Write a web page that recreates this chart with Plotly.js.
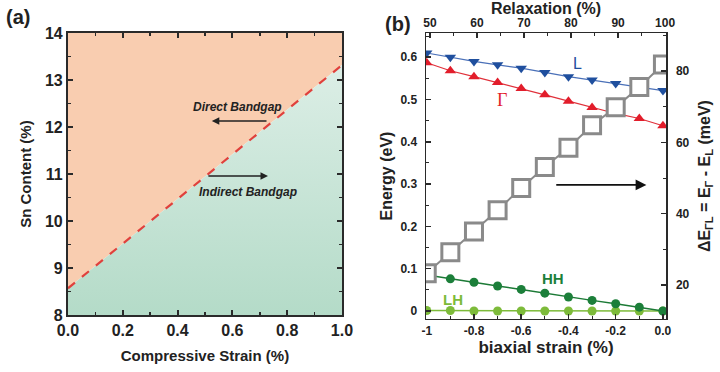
<!DOCTYPE html>
<html>
<head>
<meta charset="utf-8">
<script src="https://cdn.plot.ly/plotly-3.0.1.min.js"></script>
<style>html,body{margin:0;padding:0;background:#fff;}#chart{width:720px;height:372px;}</style>
</head>
<body>
<div id="chart"></div>
<script>
// ---- Panel (a) data ----
const boundaryStrain = [0, 1];
const boundarySn = [8.57, 13.32];
const strainRangeA = [0, 1];
const snRange = [8, 14];

// ---- Panel (b) data ----
const biaxialStrain = [-1, -0.9, -0.8, -0.7, -0.6, -0.5, -0.4, -0.3, -0.2, -0.1, 0];
const energyL = [0.610, 0.600, 0.590, 0.582, 0.574, 0.564, 0.554, 0.546, 0.538, 0.529, 0.521];
const energyGamma = [0.587, 0.568, 0.554, 0.540, 0.526, 0.511, 0.496, 0.481, 0.467, 0.455, 0.438];
const energyHH = [0.085, 0.076, 0.068, 0.059, 0.051, 0.042, 0.033, 0.025, 0.017, 0.009, 0.0];
const energyLH = [0.001, 0.001, 0.0, 0.0, 0.0, 0.0, 0.0, 0.0, 0.0, 0.0, 0.0];
const deltaE = [23.3, 29.2, 35.0, 41.0, 47.2, 53.1, 58.5, 64.8, 69.8, 75.5, 81.8];
const relaxationTicks = [50, 60, 70, 80, 90, 100];
const strainTickVals = [-1, -0.8, -0.6, -0.4, -0.2, 0];
const strainTickText = ['-1', '-0.8', '-0.6', '-0.4', '-0.2', '0.0'];

const F = 'Liberation Sans, Arial, sans-serif';
const axColor = '#2a2a2a';

const traces = [
  {x: [strainRangeA[0], boundaryStrain[0], boundaryStrain[1], strainRangeA[1]],
   y: [snRange[1], boundarySn[0], boundarySn[1], snRange[1]],
   xaxis: 'x', yaxis: 'y', mode: 'lines', fill: 'toself', fillcolor: '#f9cdb0',
   line: {width: 0}, hoverinfo: 'skip', showlegend: false},
  {x: [strainRangeA[0], strainRangeA[1], boundaryStrain[1], boundaryStrain[0]],
   y: [snRange[0], snRange[0], boundarySn[1], boundarySn[0]],
   xaxis: 'x', yaxis: 'y', mode: 'lines', fill: 'toself',
   fillgradient: {type: 'vertical', colorscale: [[0, '#b4dbc8'], [1, '#dceee6']]},
   line: {width: 0}, hoverinfo: 'skip', showlegend: false},
  {x: boundaryStrain, y: boundarySn, xaxis: 'x', yaxis: 'y', mode: 'lines',
   line: {color: '#e0403c', width: 2.2, dash: 'dash'}, showlegend: false},
  {x: biaxialStrain, y: energyLH, xaxis: 'x2', yaxis: 'y2', mode: 'lines+markers',
   line: {color: '#7dbb3a', width: 1.5}, marker: {color: '#7dbb3a', size: 9, symbol: 'circle'}, showlegend: false},
  {x: biaxialStrain, y: energyHH, xaxis: 'x2', yaxis: 'y2', mode: 'lines+markers',
   line: {color: '#1c7a36', width: 1.5}, marker: {color: '#1c7f3a', size: 9, symbol: 'circle'}, showlegend: false},
  {x: biaxialStrain, y: energyGamma, xaxis: 'x2', yaxis: 'y2', mode: 'lines+markers',
   line: {color: '#e0303a', width: 1.2}, marker: {color: '#e21d2b', size: 10, symbol: 'triangle-up'}, showlegend: false},
  {x: biaxialStrain, y: energyL, xaxis: 'x2', yaxis: 'y2', mode: 'lines+markers',
   line: {color: '#4a70b8', width: 1.2}, marker: {color: '#1f4f9e', size: 10, symbol: 'triangle-down'}, showlegend: false},
  {x: relaxationTicks, y: [null, null, null, null, null, null], xaxis: 'x3', yaxis: 'y2', mode: 'markers',
   hoverinfo: 'skip', showlegend: false},
  {x: biaxialStrain, y: deltaE, xaxis: 'x2', yaxis: 'y3', mode: 'lines+markers',
   line: {color: '#8a8a8a', width: 2},
   marker: {symbol: 'square', size: 17, color: '#ffffff', line: {color: '#8a8a8a', width: 3}}, showlegend: false}
];

const tickFontA = {family: F, size: 16, color: '#222', weight: 'bold'};
const tickFontB = {family: F, size: 12, color: '#222', weight: 'bold'};

const layout = {
  width: 720, height: 372,
  margin: {l: 0, r: 0, t: 0, b: 0},
  paper_bgcolor: '#fff', plot_bgcolor: 'rgba(0,0,0,0)',
  font: {family: F, color: '#222'},
  xaxis: {domain: [0.0944, 0.475], anchor: 'y', range: strainRangeA, dtick: 0.2, tickformat: '.1f',
    showgrid: false, zeroline: false, showline: true, linecolor: axColor, linewidth: 2, mirror: 'ticks',
    ticks: 'inside', ticklen: 5, tickwidth: 2, tickcolor: axColor,
    minor: {dtick: 0.1, ticks: 'inside', ticklen: 3, tickwidth: 1.5, tickcolor: axColor, showgrid: false},
    tickfont: tickFontA,
    title: {text: 'Compressive Strain (%)', font: {family: F, size: 15, weight: 'bold', color: '#222'}, standoff: 12}},
  yaxis: {domain: [0.153, 0.911], anchor: 'x', range: snRange, dtick: 1,
    showgrid: false, zeroline: false, showline: true, linecolor: axColor, linewidth: 2, mirror: 'ticks',
    ticks: 'inside', ticklen: 5, tickwidth: 2, tickcolor: axColor,
    minor: {dtick: 0.5, ticks: 'inside', ticklen: 3, tickwidth: 1.5, tickcolor: axColor, showgrid: false},
    tickfont: tickFontA,
    title: {text: 'Sn Content (%)', font: {family: F, size: 15, weight: 'bold', color: '#222'}, standoff: 10}},
  xaxis2: {domain: [0.5917, 0.925], anchor: 'y2', range: [-1.003, 0.013],
    tickvals: strainTickVals, ticktext: strainTickText,
    showgrid: false, zeroline: false, showline: true, linecolor: axColor, linewidth: 1.5,
    ticks: 'inside', ticklen: 5, tickwidth: 1.5, tickcolor: axColor,
    minor: {dtick: 0.1, ticks: 'inside', ticklen: 3, tickwidth: 1, tickcolor: axColor, showgrid: false},
    tickfont: tickFontB,
    title: {text: 'biaxial strain (%)', font: {family: F, size: 17, weight: 'bold', color: '#222'}, standoff: 4}},
  xaxis3: {overlaying: 'x2', anchor: 'y2', side: 'top', range: [49.15, 100.2],
    tickvals: relaxationTicks,
    showgrid: false, zeroline: false, showline: true, linecolor: axColor, linewidth: 1.5,
    ticks: 'inside', ticklen: 5, tickwidth: 1.5, tickcolor: axColor,
    minor: {dtick: 5, ticks: 'inside', ticklen: 3, tickwidth: 1, tickcolor: axColor, showgrid: false},
    tickfont: tickFontB,
    title: {text: 'Relaxation (%)', font: {family: F, size: 16, weight: 'bold', color: '#222'}, standoff: 2}},
  yaxis2: {domain: [0.1425, 0.911], anchor: 'x2', range: [-0.019, 0.657],
    tickvals: [0, 0.1, 0.2, 0.3, 0.4, 0.5, 0.6], ticktext: ['0', '0.1', '0.2', '0.3', '0.4', '0.5', '0.6'],
    showgrid: false, zeroline: false, showline: true, linecolor: axColor, linewidth: 1.5,
    ticks: 'inside', ticklen: 5, tickwidth: 1.5, tickcolor: axColor, ticklabelstandoff: 5,
    minor: {dtick: 0.05, ticks: 'inside', ticklen: 3, tickwidth: 1, tickcolor: axColor, showgrid: false},
    tickfont: tickFontB,
    title: {text: 'Energy (eV)', font: {family: F, size: 16, weight: 'bold', color: '#222'}, standoff: 4}},
  yaxis3: {overlaying: 'y2', anchor: 'x2', side: 'right', range: [10.5, 90.6],
    tickvals: [20, 40, 60, 80],
    showgrid: false, zeroline: false, showline: true, linecolor: axColor, linewidth: 1.5,
    ticks: 'inside', ticklen: 5, tickwidth: 1.5, tickcolor: axColor, ticklabelstandoff: 6,
    minor: {dtick: 10, ticks: 'inside', ticklen: 3, tickwidth: 1, tickcolor: axColor, showgrid: false},
    tickfont: tickFontB,
    title: {text: 'ΔE<sub>ΓL</sub> = E<sub>Γ</sub> - E<sub>L</sub> (meV)', font: {family: F, size: 16, weight: 'bold', color: '#222'}, standoff: 10}},
  annotations: [
    {text: '(a)', xref: 'paper', yref: 'paper', x: 0.006, y: 0.955, xanchor: 'left', yanchor: 'middle',
     showarrow: false, font: {family: F, size: 20, weight: 'bold', color: '#222'}},
    {text: '(b)', xref: 'paper', yref: 'paper', x: 0.532, y: 0.935, xanchor: 'left', yanchor: 'middle',
     showarrow: false, font: {family: F, size: 20, weight: 'bold', color: '#222'}},
    {text: 'Direct Bandgap', xref: 'x', yref: 'y', x: 0.62, y: 12.43, showarrow: false,
     font: {family: F, size: 12, weight: 'bold', style: 'italic', color: '#222'}},
    {text: 'Indirect Bandgap', xref: 'x', yref: 'y', x: 0.657, y: 10.62, showarrow: false,
     font: {family: F, size: 12, weight: 'bold', style: 'italic', color: '#222'}},
    {xref: 'x', yref: 'y', axref: 'x', ayref: 'y', x: 0.525, y: 12.13, ax: 0.73, ay: 12.13,
     showarrow: true, arrowhead: 2, arrowsize: 1, arrowwidth: 1.5, arrowcolor: '#222', text: ''},
    {xref: 'x', yref: 'y', axref: 'x', ayref: 'y', x: 0.73, y: 10.96, ax: 0.507, ay: 10.96,
     showarrow: true, arrowhead: 2, arrowsize: 1, arrowwidth: 1.5, arrowcolor: '#222', text: ''},
    {xref: 'x2', yref: 'y2', axref: 'x2', ayref: 'y2', x: -0.07, y: 0.298, ax: -0.458, ay: 0.298,
     showarrow: true, arrowhead: 2, arrowsize: 1.2, arrowwidth: 1.8, arrowcolor: '#111', text: ''},
    {text: 'L', xref: 'x2', yref: 'y2', x: -0.36, y: 0.586, showarrow: false,
     font: {family: F, size: 16, color: '#1f4f9e'}},
    {text: 'Γ', xref: 'x2', yref: 'y2', x: -0.68, y: 0.499, showarrow: false,
     font: {family: 'Liberation Serif, Times New Roman, serif', size: 18, color: '#e21d2b'}},
    {text: 'HH', xref: 'x2', yref: 'y2', x: -0.466, y: 0.076, showarrow: false,
     font: {family: F, size: 15, weight: 'bold', color: '#1c7f3a'}},
    {text: 'LH', xref: 'x2', yref: 'y2', x: -0.89, y: 0.028, showarrow: false,
     font: {family: F, size: 15, weight: 'bold', color: '#7dbb3a'}}
  ]
};

Plotly.newPlot('chart', traces, layout, {displayModeBar: false, staticPlot: true});
</script>
</body>
</html>
